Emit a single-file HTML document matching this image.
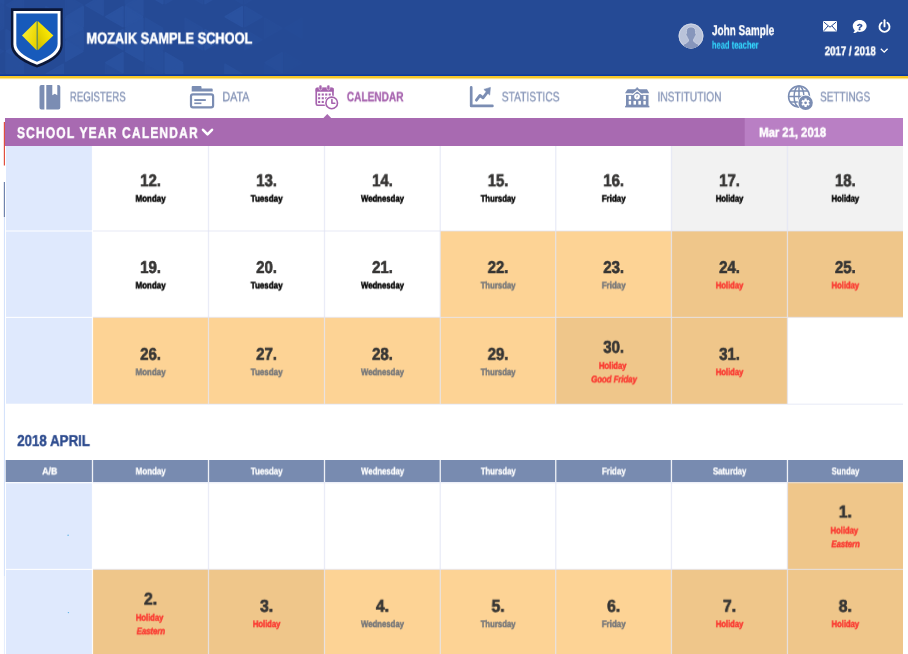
<!DOCTYPE html>
<html lang="en">
<head>
<meta charset="utf-8">
<title>School Year Calendar</title>
<style>
html,body{margin:0;padding:0;}
body{width:908px;height:654px;overflow:hidden;background:#fff;position:relative;font-family:"Liberation Sans", sans-serif;}
.t{position:absolute;white-space:nowrap;line-height:1;transform-origin:0 0;font-weight:700;-webkit-text-stroke:0.3px currentColor;will-change:transform;text-rendering:geometricPrecision;}
.n{font-weight:400;-webkit-text-stroke:0.25px currentColor;}
svg{position:absolute;overflow:visible;}

</style>
</head>
<body>
<svg id="bg" width="908" height="654" viewBox="0 0 908 654" style="left:0;top:0">
<rect x="0" y="0" width="908" height="75" fill="#254a95"/>
<clipPath id="hc"><rect x="0" y="0" width="320" height="74"/></clipPath>
<g clip-path="url(#hc)" fill="#2e58a8" stroke="#2e58a8" stroke-width="1.6" stroke-linejoin="round">
<path d="M3.5 -16.2L-13.5 -6.3L3.5 3.6z" opacity="0.32"/>
<path d="M-13.8 -4.7L3.2 5.2L-13.8 15.1z" opacity="0.22"/>
<path d="M3.5 6.8L-13.5 16.7L3.5 26.6z" opacity="0.22"/>
<path d="M-13.8 18.3L3.2 28.2L-13.8 38.1z" opacity="0.22"/>
<path d="M-13.8 41.3L3.2 51.2L-13.8 61.1z" opacity="0.22"/>
<path d="M-13.8 64.3L3.2 74.2L-13.8 84.1z" opacity="0.22"/>
<path d="M23.4 -4.7L6.4 5.2L23.4 15.1z" opacity="0.22"/>
<path d="M23.4 41.3L6.4 51.2L23.4 61.1z" opacity="0.55"/>
<path d="M6.1 29.8L23.1 39.7L6.1 49.6z" opacity="0.32"/>
<path d="M23.4 64.3L6.4 74.2L23.4 84.1z" opacity="0.32"/>
<path d="M6.1 52.8L23.1 62.7L6.1 72.6z" opacity="0.32"/>
<path d="M26.0 18.3L43.0 28.2L26.0 38.1z" opacity="0.32"/>
<path d="M43.3 29.8L26.3 39.7L43.3 49.6z" opacity="0.22"/>
<path d="M45.9 6.8L62.9 16.7L45.9 26.6z" opacity="0.32"/>
<path d="M63.2 64.3L46.2 74.2L63.2 84.1z" opacity="0.45"/>
<path d="M65.8 -4.7L82.8 5.2L65.8 15.1z" opacity="0.22"/>
<path d="M83.1 6.8L66.1 16.7L83.1 26.6z" opacity="0.55"/>
<path d="M65.8 18.3L82.8 28.2L65.8 38.1z" opacity="0.60"/>
<path d="M83.1 29.8L66.1 39.7L83.1 49.6z" opacity="0.45"/>
<path d="M65.8 41.3L82.8 51.2L65.8 61.1z" opacity="0.55"/>
<path d="M83.1 75.8L66.1 85.7L83.1 95.6z" opacity="0.45"/>
<path d="M103.0 -4.7L86.0 5.2L103.0 15.1z" opacity="0.45"/>
<path d="M85.7 75.8L102.7 85.7L85.7 95.6z" opacity="0.45"/>
<path d="M122.9 6.8L105.9 16.7L122.9 26.6z" opacity="0.60"/>
<path d="M122.9 29.8L105.9 39.7L122.9 49.6z" opacity="0.55"/>
<path d="M122.9 52.8L105.9 62.7L122.9 72.6z" opacity="0.55"/>
<path d="M105.6 64.3L122.6 74.2L105.6 84.1z" opacity="0.22"/>
<path d="M142.8 -4.7L125.8 5.2L142.8 15.1z" opacity="0.45"/>
<path d="M125.5 -16.2L142.5 -6.3L125.5 3.6z" opacity="0.32"/>
<path d="M142.8 18.3L125.8 28.2L142.8 38.1z" opacity="0.55"/>
<path d="M125.5 6.8L142.5 16.7L125.5 26.6z" opacity="0.60"/>
<path d="M142.8 41.3L125.8 51.2L142.8 61.1z" opacity="0.55"/>
<path d="M125.5 29.8L142.5 39.7L125.5 49.6z" opacity="0.45"/>
<path d="M162.7 -16.2L145.7 -6.3L162.7 3.6z" opacity="0.55"/>
<path d="M145.4 18.3L162.4 28.2L145.4 38.1z" opacity="0.32"/>
<path d="M162.7 29.8L145.7 39.7L162.7 49.6z" opacity="0.32"/>
<path d="M145.4 41.3L162.4 51.2L145.4 61.1z" opacity="0.32"/>
<path d="M162.7 52.8L145.7 62.7L162.7 72.6z" opacity="0.32"/>
<path d="M145.4 64.3L162.4 74.2L145.4 84.1z" opacity="0.22"/>
<path d="M162.7 75.8L145.7 85.7L162.7 95.6z" opacity="0.45"/>
<path d="M165.3 -16.2L182.3 -6.3L165.3 3.6z" opacity="0.32"/>
<path d="M182.6 64.3L165.6 74.2L182.6 84.1z" opacity="0.55"/>
<path d="M165.3 52.8L182.3 62.7L165.3 72.6z" opacity="0.55"/>
<path d="M165.3 75.8L182.3 85.7L165.3 95.6z" opacity="0.55"/>
<path d="M202.5 -16.2L185.5 -6.3L202.5 3.6z" opacity="0.22"/>
<path d="M185.2 18.3L202.2 28.2L185.2 38.1z" opacity="0.22"/>
<path d="M202.5 29.8L185.5 39.7L202.5 49.6z" opacity="0.32"/>
<path d="M202.5 75.8L185.5 85.7L202.5 95.6z" opacity="0.32"/>
<path d="M205.1 -16.2L222.1 -6.3L205.1 3.6z" opacity="0.45"/>
<path d="M205.1 29.8L222.1 39.7L205.1 49.6z" opacity="0.55"/>
<path d="M242.3 -16.2L225.3 -6.3L242.3 3.6z" opacity="0.20"/>
<path d="M242.3 6.8L225.3 16.7L242.3 26.6z" opacity="0.60"/>
<path d="M225.0 64.3L242.0 74.2L225.0 84.1z" opacity="0.40"/>
<path d="M242.3 75.8L225.3 85.7L242.3 95.6z" opacity="0.20"/>
<path d="M244.9 -16.2L261.9 -6.3L244.9 3.6z" opacity="0.15"/>
<path d="M244.9 6.8L261.9 16.7L244.9 26.6z" opacity="0.30"/>
<path d="M244.9 29.8L261.9 39.7L244.9 49.6z" opacity="0.21"/>
<path d="M244.9 75.8L261.9 85.7L244.9 95.6z" opacity="0.21"/>
<path d="M264.8 18.3L281.8 28.2L264.8 38.1z" opacity="0.14"/>
<path d="M282.1 52.8L265.1 62.7L282.1 72.6z" opacity="0.24"/>
<path d="M264.8 64.3L281.8 74.2L264.8 84.1z" opacity="0.10"/>
<path d="M302.0 18.3L285.0 28.2L302.0 38.1z" opacity="0.10"/>
<path d="M284.7 52.8L301.7 62.7L284.7 72.6z" opacity="0.07"/>
<path d="M284.7 75.8L301.7 85.7L284.7 95.6z" opacity="0.12"/>
</g>
<rect x="0" y="74.5" width="908" height="1.7" fill="#0f3a9a"/>
<rect x="0" y="76.05" width="908" height="2.2" fill="#f9c922"/>
<rect x="0" y="78.2" width="908" height="1" fill="#f7c724" opacity="0.45"/>
<rect x="5" y="118" width="898" height="28" fill="#a86ab1"/>
<rect x="744.7" y="118" width="158.3" height="28" fill="#b97fc4"/>
<path d="M323.2 118.2L327.3 114.1L331.4 118.2z" fill="#a86ab1"/>
<rect x="3.8" y="122" width="1.2" height="43.5" fill="#e0503f"/>
<rect x="3.8" y="182" width="1.2" height="35" fill="#6f83ad"/>
<rect x="3.9" y="217" width="1.1" height="359" fill="#d5e3fb"/>
<rect x="3.9" y="576" width="1.1" height="78" fill="#e6eefc"/>

<rect x="6" y="146" width="86.5" height="85" fill="#dfe9fd"/>
<rect x="671.45" y="146" width="116" height="85" fill="#f2f2f2"/>
<rect x="787.45" y="146" width="115.55" height="85" fill="#f2f2f2"/>
<rect x="6" y="231" width="86.5" height="86.4" fill="#dfe9fd"/>
<rect x="440.25" y="231" width="115.5" height="86.4" fill="#fdd395"/>
<rect x="555.75" y="231" width="115.7" height="86.4" fill="#fdd395"/>
<rect x="671.45" y="231" width="116" height="86.4" fill="#efc68a"/>
<rect x="787.45" y="231" width="115.55" height="86.4" fill="#efc68a"/>
<rect x="6" y="317.4" width="86.5" height="86.3" fill="#dfe9fd"/>
<rect x="92.5" y="317.4" width="116" height="86.6" fill="#fdd395"/>
<rect x="208.5" y="317.4" width="116" height="86.6" fill="#fdd395"/>
<rect x="324.5" y="317.4" width="115.75" height="86.6" fill="#fdd395"/>
<rect x="440.25" y="317.4" width="115.5" height="86.6" fill="#fdd395"/>
<rect x="555.75" y="317.4" width="115.7" height="86.6" fill="#efc68a"/>
<rect x="671.45" y="317.4" width="116" height="86.6" fill="#efc68a"/>
<rect x="5.7" y="460" width="897.3" height="22" fill="#788bb0"/>
<rect x="6" y="482" width="86.5" height="87.4" fill="#dfe9fd"/>
<rect x="787.45" y="482" width="115.55" height="87.4" fill="#efc68a"/>
<rect x="6" y="569.4" width="86.5" height="86.6" fill="#dfe9fd"/>
<rect x="92.5" y="569.4" width="116" height="86.6" fill="#efc68a"/>
<rect x="208.5" y="569.4" width="116" height="86.6" fill="#efc68a"/>
<rect x="324.5" y="569.4" width="115.75" height="86.6" fill="#fdd395"/>
<rect x="440.25" y="569.4" width="115.5" height="86.6" fill="#fdd395"/>
<rect x="555.75" y="569.4" width="115.7" height="86.6" fill="#fdd395"/>
<rect x="671.45" y="569.4" width="116" height="86.6" fill="#efc68a"/>
<rect x="787.45" y="569.4" width="115.55" height="86.6" fill="#efc68a"/>
<rect x="91.9" y="146" width="1.2" height="258" fill="#fff" opacity="0.9"/>
<rect x="91.9" y="482" width="1.2" height="172" fill="#fff" opacity="0.9"/>
<rect x="91.85" y="460" width="1.3" height="22.2" fill="#fff" opacity="0.88"/>
<rect x="207.85" y="146" width="1.3" height="258" fill="#e1e4f4" opacity="0.7"/>
<rect x="207.85" y="482" width="1.3" height="172" fill="#e1e4f4" opacity="0.7"/>
<rect x="207.85" y="460" width="1.3" height="22.2" fill="#fff" opacity="0.88"/>
<rect x="323.85" y="146" width="1.3" height="258" fill="#e1e4f4" opacity="0.7"/>
<rect x="323.85" y="482" width="1.3" height="172" fill="#e1e4f4" opacity="0.7"/>
<rect x="323.85" y="460" width="1.3" height="22.2" fill="#fff" opacity="0.88"/>
<rect x="439.6" y="146" width="1.3" height="258" fill="#e1e4f4" opacity="0.7"/>
<rect x="439.6" y="482" width="1.3" height="172" fill="#e1e4f4" opacity="0.7"/>
<rect x="439.6" y="460" width="1.3" height="22.2" fill="#fff" opacity="0.88"/>
<rect x="555.1" y="146" width="1.3" height="258" fill="#e1e4f4" opacity="0.7"/>
<rect x="555.1" y="482" width="1.3" height="172" fill="#e1e4f4" opacity="0.7"/>
<rect x="555.1" y="460" width="1.3" height="22.2" fill="#fff" opacity="0.88"/>
<rect x="670.8" y="146" width="1.3" height="258" fill="#e1e4f4" opacity="0.7"/>
<rect x="670.8" y="482" width="1.3" height="172" fill="#e1e4f4" opacity="0.7"/>
<rect x="670.8" y="460" width="1.3" height="22.2" fill="#fff" opacity="0.88"/>
<rect x="786.8" y="146" width="1.3" height="258" fill="#e1e4f4" opacity="0.7"/>
<rect x="786.8" y="482" width="1.3" height="172" fill="#e1e4f4" opacity="0.7"/>
<rect x="786.8" y="460" width="1.3" height="22.2" fill="#fff" opacity="0.88"/>
<rect x="93" y="230.35" width="810" height="1.3" fill="#e1e4f4" opacity="0.595"/>
<rect x="5.5" y="230.4" width="87.5" height="1.2" fill="#fff" opacity="0.85"/>
<rect x="93" y="316.75" width="810" height="1.3" fill="#e1e4f4" opacity="0.595"/>
<rect x="5.5" y="316.8" width="87.5" height="1.2" fill="#fff" opacity="0.85"/>
<rect x="93" y="403.55" width="810" height="1.3" fill="#e1e4f4" opacity="0.595"/>
<rect x="93" y="482.05" width="810" height="1.3" fill="#e1e4f4" opacity="0.595"/>
<rect x="5.5" y="482.1" width="87.5" height="1.2" fill="#fff" opacity="0.85"/>
<rect x="93" y="568.75" width="810" height="1.3" fill="#e1e4f4" opacity="0.595"/>
<rect x="5.5" y="568.8" width="87.5" height="1.2" fill="#fff" opacity="0.85"/>
<circle cx="68.1" cy="535.2" r="0.7" fill="#5cb3e6"/><circle cx="68.4" cy="612.6" r="0.7" fill="#5cb3e6"/>
</svg>
<div class="t" style="left:86px;top:31px;font-size:15.8px;color:#fff;transform:translate3d(0.40px,0.50px,0) scaleX(0.8118);-webkit-text-stroke-width:0.5px;">MOZAIK SAMPLE SCHOOL</div>
<div class="t" style="left:711px;top:24px;font-size:14.2px;color:#fff;transform:translate3d(0.90px,0.10px,0) scaleX(0.7054);">John Sample</div>
<div class="t" style="left:711px;top:40px;font-size:11.1px;color:#34d6fc;transform:translate3d(0.90px,0.60px,0) scaleX(0.6822);-webkit-text-stroke-width:0.1px;">head teacher</div>
<div class="t" style="left:824px;top:45px;font-size:12.6px;color:#fff;transform:translate3d(0.70px,0.20px,0) scaleX(0.7681);-webkit-text-stroke-width:0.45px;">2017 / 2018</div>
<div class="t n" style="left:69px;top:90px;font-size:13.5px;color:#8090b4;transform:translate3d(0.80px,0.30px,0) scaleX(0.7165);">REGISTERS</div>
<div class="t n" style="left:222px;top:90px;font-size:13.5px;color:#8090b4;transform:translate3d(0.40px,0.30px,0) scaleX(0.7938);">DATA</div>
<div class="t" style="left:346px;top:90px;font-size:13.5px;color:#a663ae;transform:translate3d(0.80px,0.30px,0) scaleX(0.7485);">CALENDAR</div>
<div class="t n" style="left:501px;top:90px;font-size:13.5px;color:#8090b4;transform:translate3d(0.70px,0.30px,0) scaleX(0.7604);">STATISTICS</div>
<div class="t n" style="left:657px;top:90px;font-size:13.5px;color:#8090b4;transform:translate3d(0.50px,0.30px,0) scaleX(0.7552);">INSTITUTION</div>
<div class="t n" style="left:820px;top:90px;font-size:13.5px;color:#8090b4;transform:translate3d(0.00px,0.30px,0) scaleX(0.7435);">SETTINGS</div>
<div class="t" style="left:17px;top:125px;font-size:15.4px;color:#fff;transform:translate3d(0.00px,0.90px,0) scaleX(0.7739);letter-spacing:1.6px;-webkit-text-stroke-width:0.5px;">SCHOOL YEAR CALENDAR</div>
<div class="t" style="left:759px;top:125px;font-size:13.2px;color:#fff;transform:translate3d(0.20px,0.70px,0) scaleX(0.8540);-webkit-text-stroke-width:0.5px;">Mar 21, 2018</div>
<div class="t" style="left:17px;top:433px;font-size:15.8px;color:#2d4b8e;transform:translate3d(0.20px,0.90px,0) scaleX(0.8420);-webkit-text-stroke-width:0.4px;">2018 APRIL</div>
<div class="t" style="left:140px;top:172px;font-size:17.2px;color:#363534;transform:translate3d(0.20px,0.20px,0) scaleX(0.8701);-webkit-text-stroke-width:0.65px;">12.</div>
<div class="t" style="left:135px;top:194px;font-size:9.6px;color:#000;transform:translate3d(0.55px,0.65px,0) scaleX(0.8303);-webkit-text-stroke-width:0.5px;">Monday</div>
<div class="t" style="left:256px;top:172px;font-size:17.2px;color:#363534;transform:translate3d(0.20px,0.20px,0) scaleX(0.8701);-webkit-text-stroke-width:0.65px;">13.</div>
<div class="t" style="left:250px;top:194px;font-size:9.6px;color:#000;transform:translate3d(0.60px,0.65px,0) scaleX(0.8373);-webkit-text-stroke-width:0.5px;">Tuesday</div>
<div class="t" style="left:372px;top:172px;font-size:17.2px;color:#363534;transform:translate3d(0.08px,0.20px,0) scaleX(0.8701);-webkit-text-stroke-width:0.65px;">14.</div>
<div class="t" style="left:360px;top:194px;font-size:9.6px;color:#000;transform:translate3d(0.98px,0.65px,0) scaleX(0.8092);-webkit-text-stroke-width:0.5px;">Wednesday</div>
<div class="t" style="left:487px;top:172px;font-size:17.2px;color:#363534;transform:translate3d(0.70px,0.20px,0) scaleX(0.8701);-webkit-text-stroke-width:0.65px;">15.</div>
<div class="t" style="left:480px;top:194px;font-size:9.6px;color:#000;transform:translate3d(0.60px,0.65px,0) scaleX(0.8104);-webkit-text-stroke-width:0.5px;">Thursday</div>
<div class="t" style="left:603px;top:172px;font-size:17.2px;color:#363534;transform:translate3d(0.30px,0.20px,0) scaleX(0.8701);-webkit-text-stroke-width:0.65px;">16.</div>
<div class="t" style="left:601px;top:194px;font-size:9.6px;color:#000;transform:translate3d(0.80px,0.65px,0) scaleX(0.8265);-webkit-text-stroke-width:0.5px;">Friday</div>
<div class="t" style="left:719px;top:172px;font-size:17.2px;color:#363534;transform:translate3d(0.15px,0.20px,0) scaleX(0.8701);-webkit-text-stroke-width:0.65px;">17.</div>
<div class="t" style="left:715px;top:194px;font-size:9.6px;color:#000;transform:translate3d(0.80px,0.65px,0) scaleX(0.7935);-webkit-text-stroke-width:0.5px;">Holiday</div>
<div class="t" style="left:834px;top:172px;font-size:17.2px;color:#363534;transform:translate3d(0.93px,0.20px,0) scaleX(0.8701);-webkit-text-stroke-width:0.65px;">18.</div>
<div class="t" style="left:831px;top:194px;font-size:9.6px;color:#000;transform:translate3d(0.58px,0.65px,0) scaleX(0.7935);-webkit-text-stroke-width:0.5px;">Holiday</div>
<div class="t" style="left:140px;top:259px;font-size:17.2px;color:#363534;transform:translate3d(0.20px,0.00px,0) scaleX(0.8701);-webkit-text-stroke-width:0.65px;">19.</div>
<div class="t" style="left:135px;top:281px;font-size:9.6px;color:#000;transform:translate3d(0.55px,0.45px,0) scaleX(0.8303);-webkit-text-stroke-width:0.5px;">Monday</div>
<div class="t" style="left:256px;top:259px;font-size:17.2px;color:#363534;transform:translate3d(0.20px,0.00px,0) scaleX(0.8701);-webkit-text-stroke-width:0.65px;">20.</div>
<div class="t" style="left:250px;top:281px;font-size:9.6px;color:#000;transform:translate3d(0.60px,0.45px,0) scaleX(0.8373);-webkit-text-stroke-width:0.5px;">Tuesday</div>
<div class="t" style="left:372px;top:259px;font-size:17.2px;color:#363534;transform:translate3d(0.08px,0.00px,0) scaleX(0.8701);-webkit-text-stroke-width:0.65px;">21.</div>
<div class="t" style="left:360px;top:281px;font-size:9.6px;color:#000;transform:translate3d(0.98px,0.45px,0) scaleX(0.8092);-webkit-text-stroke-width:0.5px;">Wednesday</div>
<div class="t" style="left:487px;top:259px;font-size:17.2px;color:#363534;transform:translate3d(0.70px,0.00px,0) scaleX(0.8701);-webkit-text-stroke-width:0.65px;">22.</div>
<div class="t" style="left:480px;top:281px;font-size:9.6px;color:#77787a;transform:translate3d(0.60px,0.45px,0) scaleX(0.8104);-webkit-text-stroke-width:0.5px;">Thursday</div>
<div class="t" style="left:603px;top:259px;font-size:17.2px;color:#363534;transform:translate3d(0.30px,0.00px,0) scaleX(0.8701);-webkit-text-stroke-width:0.65px;">23.</div>
<div class="t" style="left:601px;top:281px;font-size:9.6px;color:#77787a;transform:translate3d(0.80px,0.45px,0) scaleX(0.8265);-webkit-text-stroke-width:0.5px;">Friday</div>
<div class="t" style="left:719px;top:259px;font-size:17.2px;color:#363534;transform:translate3d(0.15px,0.00px,0) scaleX(0.8701);-webkit-text-stroke-width:0.65px;">24.</div>
<div class="t" style="left:715px;top:281px;font-size:9.6px;color:#fa3a32;transform:translate3d(0.80px,0.45px,0) scaleX(0.7935);-webkit-text-stroke-width:0.5px;">Holiday</div>
<div class="t" style="left:834px;top:259px;font-size:17.2px;color:#363534;transform:translate3d(0.93px,0.00px,0) scaleX(0.8701);-webkit-text-stroke-width:0.65px;">25.</div>
<div class="t" style="left:831px;top:281px;font-size:9.6px;color:#fa3a32;transform:translate3d(0.58px,0.45px,0) scaleX(0.7935);-webkit-text-stroke-width:0.5px;">Holiday</div>
<div class="t" style="left:140px;top:345px;font-size:17.2px;color:#363534;transform:translate3d(0.20px,0.80px,0) scaleX(0.8701);-webkit-text-stroke-width:0.65px;">26.</div>
<div class="t" style="left:135px;top:368px;font-size:9.6px;color:#77787a;transform:translate3d(0.55px,0.25px,0) scaleX(0.8303);-webkit-text-stroke-width:0.5px;">Monday</div>
<div class="t" style="left:256px;top:345px;font-size:17.2px;color:#363534;transform:translate3d(0.20px,0.80px,0) scaleX(0.8701);-webkit-text-stroke-width:0.65px;">27.</div>
<div class="t" style="left:250px;top:368px;font-size:9.6px;color:#77787a;transform:translate3d(0.60px,0.25px,0) scaleX(0.8373);-webkit-text-stroke-width:0.5px;">Tuesday</div>
<div class="t" style="left:372px;top:345px;font-size:17.2px;color:#363534;transform:translate3d(0.08px,0.80px,0) scaleX(0.8701);-webkit-text-stroke-width:0.65px;">28.</div>
<div class="t" style="left:360px;top:368px;font-size:9.6px;color:#77787a;transform:translate3d(0.98px,0.25px,0) scaleX(0.8092);-webkit-text-stroke-width:0.5px;">Wednesday</div>
<div class="t" style="left:487px;top:345px;font-size:17.2px;color:#363534;transform:translate3d(0.70px,0.80px,0) scaleX(0.8701);-webkit-text-stroke-width:0.65px;">29.</div>
<div class="t" style="left:480px;top:368px;font-size:9.6px;color:#77787a;transform:translate3d(0.60px,0.25px,0) scaleX(0.8104);-webkit-text-stroke-width:0.5px;">Thursday</div>
<div class="t" style="left:603px;top:338px;font-size:17.2px;color:#363534;transform:translate3d(0.30px,0.70px,0) scaleX(0.8701);-webkit-text-stroke-width:0.65px;">30.</div>
<div class="t" style="left:598px;top:361px;font-size:9.6px;color:#fa3a32;transform:translate3d(0.95px,0.80px,0) scaleX(0.7935);-webkit-text-stroke-width:0.5px;">Holiday</div>
<div class="t" style="left:591px;top:375px;font-size:9.6px;color:#fa3a32;transform:translate3d(0.15px,0.40px,0) scaleX(0.8088);font-style:italic;-webkit-text-stroke-width:0.5px;">Good Friday</div>
<div class="t" style="left:719px;top:345px;font-size:17.2px;color:#363534;transform:translate3d(0.15px,0.80px,0) scaleX(0.8701);-webkit-text-stroke-width:0.65px;">31.</div>
<div class="t" style="left:715px;top:368px;font-size:9.6px;color:#fa3a32;transform:translate3d(0.80px,0.25px,0) scaleX(0.7935);-webkit-text-stroke-width:0.5px;">Holiday</div>
<div class="t" style="left:42px;top:467px;font-size:9.9px;color:#fff;transform:translate3d(0.20px,0.40px,0) scaleX(0.8815);">A/B</div>
<div class="t" style="left:135px;top:467px;font-size:9.9px;color:#fff;transform:translate3d(0.65px,0.40px,0) scaleX(0.8067);">Monday</div>
<div class="t" style="left:250px;top:467px;font-size:9.9px;color:#fff;transform:translate3d(0.70px,0.40px,0) scaleX(0.8133);">Tuesday</div>
<div class="t" style="left:361px;top:467px;font-size:9.9px;color:#fff;transform:translate3d(0.07px,0.40px,0) scaleX(0.7861);">Wednesday</div>
<div class="t" style="left:480px;top:467px;font-size:9.9px;color:#fff;transform:translate3d(0.70px,0.40px,0) scaleX(0.7873);">Thursday</div>
<div class="t" style="left:601px;top:467px;font-size:9.9px;color:#fff;transform:translate3d(0.90px,0.40px,0) scaleX(0.8030);">Friday</div>
<div class="t" style="left:712px;top:467px;font-size:9.9px;color:#fff;transform:translate3d(0.90px,0.40px,0) scaleX(0.7926);">Saturday</div>
<div class="t" style="left:831px;top:467px;font-size:9.9px;color:#fff;transform:translate3d(0.68px,0.40px,0) scaleX(0.7709);">Sunday</div>
<div class="t" style="left:838px;top:503px;font-size:17.2px;color:#363534;transform:translate3d(0.73px,0.50px,0) scaleX(0.9203);-webkit-text-stroke-width:0.65px;">1.</div>
<div class="t" style="left:830px;top:526px;font-size:9.6px;color:#fa3a32;transform:translate3d(0.58px,0.60px,0) scaleX(0.7935);-webkit-text-stroke-width:0.5px;">Holiday</div>
<div class="t" style="left:831px;top:540px;font-size:9.6px;color:#fa3a32;transform:translate3d(0.38px,0.20px,0) scaleX(0.8096);font-style:italic;-webkit-text-stroke-width:0.5px;">Eastern</div>
<div class="t" style="left:144px;top:590px;font-size:17.2px;color:#363534;transform:translate3d(0.00px,0.60px,0) scaleX(0.9203);-webkit-text-stroke-width:0.65px;">2.</div>
<div class="t" style="left:135px;top:613px;font-size:9.6px;color:#fa3a32;transform:translate3d(0.85px,0.70px,0) scaleX(0.7935);-webkit-text-stroke-width:0.5px;">Holiday</div>
<div class="t" style="left:136px;top:627px;font-size:9.6px;color:#fa3a32;transform:translate3d(0.65px,0.30px,0) scaleX(0.8096);font-style:italic;-webkit-text-stroke-width:0.5px;">Eastern</div>
<div class="t" style="left:260px;top:597px;font-size:17.2px;color:#363534;transform:translate3d(0.00px,0.70px,0) scaleX(0.9203);-webkit-text-stroke-width:0.65px;">3.</div>
<div class="t" style="left:252px;top:620px;font-size:9.6px;color:#fa3a32;transform:translate3d(0.85px,0.15px,0) scaleX(0.7935);-webkit-text-stroke-width:0.5px;">Holiday</div>
<div class="t" style="left:375px;top:597px;font-size:17.2px;color:#363534;transform:translate3d(0.88px,0.70px,0) scaleX(0.9203);-webkit-text-stroke-width:0.65px;">4.</div>
<div class="t" style="left:360px;top:620px;font-size:9.6px;color:#77787a;transform:translate3d(0.98px,0.15px,0) scaleX(0.8092);-webkit-text-stroke-width:0.5px;">Wednesday</div>
<div class="t" style="left:491px;top:597px;font-size:17.2px;color:#363534;transform:translate3d(0.50px,0.70px,0) scaleX(0.9203);-webkit-text-stroke-width:0.65px;">5.</div>
<div class="t" style="left:480px;top:620px;font-size:9.6px;color:#77787a;transform:translate3d(0.60px,0.15px,0) scaleX(0.8104);-webkit-text-stroke-width:0.5px;">Thursday</div>
<div class="t" style="left:607px;top:597px;font-size:17.2px;color:#363534;transform:translate3d(0.10px,0.70px,0) scaleX(0.9203);-webkit-text-stroke-width:0.65px;">6.</div>
<div class="t" style="left:601px;top:620px;font-size:9.6px;color:#77787a;transform:translate3d(0.80px,0.15px,0) scaleX(0.8265);-webkit-text-stroke-width:0.5px;">Friday</div>
<div class="t" style="left:722px;top:597px;font-size:17.2px;color:#363534;transform:translate3d(0.95px,0.70px,0) scaleX(0.9203);-webkit-text-stroke-width:0.65px;">7.</div>
<div class="t" style="left:715px;top:620px;font-size:9.6px;color:#fa3a32;transform:translate3d(0.80px,0.15px,0) scaleX(0.7935);-webkit-text-stroke-width:0.5px;">Holiday</div>
<div class="t" style="left:838px;top:597px;font-size:17.2px;color:#363534;transform:translate3d(0.73px,0.70px,0) scaleX(0.9203);-webkit-text-stroke-width:0.65px;">8.</div>
<div class="t" style="left:831px;top:620px;font-size:9.6px;color:#fa3a32;transform:translate3d(0.58px,0.15px,0) scaleX(0.7935);-webkit-text-stroke-width:0.5px;">Holiday</div>
<svg id="logo" width="52" height="60" viewBox="0 0 52 60" style="left:11px;top:8px">
<defs>
<linearGradient id="lg1" x1="0" y1="0" x2="1" y2="0.6"><stop offset="0" stop-color="#fff53f"/><stop offset="1" stop-color="#e9d500"/></linearGradient>
<linearGradient id="lg2" x1="0" y1="1" x2="1" y2="0"><stop offset="0" stop-color="#cdbb00"/><stop offset="0.55" stop-color="#f3e000"/><stop offset="1" stop-color="#fff530"/></linearGradient>
</defs>
<path d="M-0.1 0.2H51.7V36C51.7 45.4 45.4 52.4 26 59.6C6.6 52.4 -0.1 45.4 -0.1 36Z" fill="#0b1738"/>
<path d="M2.4 2.9H49.5V36C49.5 43.5 43.5 50 26 56.8C8.5 50 2.4 43.5 2.4 36Z" fill="#fff"/>
<path d="M5.3 5.6H46.6V35.5C46.6 42 41 47.8 26 53.8C11 47.8 5.3 42 5.3 35.5Z" fill="#175abb"/>
<rect x="25.4" y="13.4" width="1.6" height="28.4" fill="#5c8a5a"/>
<path d="M25.6 12.9L11 27.6L25.6 42.2Z" fill="url(#lg1)"/>
<path d="M26.8 12.9L42.4 27.6L26.8 42.2Z" fill="url(#lg2)"/>
</svg>
<svg id="avatar" width="26" height="26" viewBox="0 0 26 26" style="left:678.4px;top:23.4px">
<defs><clipPath id="avc"><circle cx="13" cy="13" r="12.4"/></clipPath></defs>
<circle cx="13" cy="13" r="12.4" fill="#bac3da"/>
<circle cx="13" cy="13" r="11.9" fill="none" stroke="#cfd6e6" stroke-width="1"/>
<g clip-path="url(#avc)">
<path d="M8.4 8.5C8.4 5.5 10 3.9 13 3.9C16 3.9 17.6 5.5 17.6 8.5L17.6 10.5C18.3 10.6 18.4 12.2 17.4 12.9C17 14.5 16.3 15.6 15.6 16.3L15.6 18C16.5 19.8 19 20.5 20.5 21.5L21.5 26L4.5 26L5.5 21.5C7 20.5 9.5 19.8 10.4 18L10.4 16.3C9.7 15.6 9 14.5 8.6 12.9C7.6 12.2 7.7 10.6 8.4 10.5Z" fill="#8796bc" stroke="#c9d1e4" stroke-width="0.9"/>
</g>
</svg>
<svg id="mail" width="14" height="11" viewBox="0 0 14 11" style="left:823px;top:21.2px">
<rect x="0" y="0" width="14" height="10.6" rx="0.8" fill="#fff"/>
<path d="M0.8 1L7 6.2L13.2 1M0.8 9.8L5 5M13.2 9.8L9 5" stroke="#254a95" stroke-width="1" fill="none"/>
</svg>
<svg id="help" width="15" height="14" viewBox="0 0 15 14" style="left:851.6px;top:20.1px">
<path d="M7.7 0.1C11.6 0.1 14.6 2.8 14.6 6C14.6 9.2 11.6 11.9 7.7 11.9C6.9 11.9 6.2 11.8 5.5 11.6C4.4 12.6 3 13.1 1.2 13.1C2.1 12.3 2.6 11.4 2.7 10.3C1.5 9.2 0.8 7.7 0.8 6C0.8 2.8 3.8 0.1 7.7 0.1Z" fill="#fff"/>
<text x="7.8" y="9.8" font-family="Liberation Sans, sans-serif" font-weight="700" font-size="9.8" text-anchor="middle" fill="#254a95" stroke="#254a95" stroke-width="0.3">?</text>
</svg>
<svg id="power" width="13" height="14" viewBox="0 0 13 14" style="left:877.7px;top:19.4px">
<path d="M3.6 3.8A5 5 0 1 0 9.4 3.8" stroke="#fff" stroke-width="1.9" fill="none" stroke-linecap="round"/>
<path d="M6.5 1.2V7.4" stroke="#fff" stroke-width="1.9" stroke-linecap="round"/>
</svg>
<svg id="chev1" width="9" height="6" viewBox="0 0 9 6" style="left:880.2px;top:48.2px"><path d="M0.8 0.8L4.2 4.2L7.6 0.8" stroke="#fff" stroke-width="1.3" fill="none"/></svg>
<svg id="chev2" width="13" height="9" viewBox="0 0 13 9" style="left:201.4px;top:127.6px"><path d="M2 1.8L6.5 6.4L11 1.8" stroke="#fff" stroke-width="2.6" fill="none" stroke-linecap="round" stroke-linejoin="round"/></svg>
<!-- nav icons -->
<svg id="i-reg" width="22" height="25" viewBox="0 0 22 25" style="left:38.8px;top:84.8px">
<path d="M2.4 0H5.4V24.4H2.4A1.9 1.9 0 0 1 0.5 22.5V1.9A1.9 1.9 0 0 1 2.4 0Z" fill="#7b8db3"/>
<path d="M7.3 0H13.3V10.2L15.8 8.8L18.3 10.2V0H19.4A1.9 1.9 0 0 1 21.3 1.9V22.5A1.9 1.9 0 0 1 19.4 24.4H7.3Z" fill="#7b8db3"/>
</svg>
<svg id="i-data" width="25" height="23" viewBox="0 0 25 23" style="left:190.2px;top:86px">
<path d="M1.7 0.9A0.9 0.9 0 0 1 2.6 0H10.6A0.9 0.9 0 0 1 11.5 0.9V2.4H21.8A0.9 0.9 0 0 1 22.7 3.3V5.6H1.7Z" fill="#7b8db3"/>
<rect x="1" y="8.3" width="22.1" height="13" rx="1.9" fill="none" stroke="#7b8db3" stroke-width="2.2"/>
<rect x="4.3" y="13.1" width="11.5" height="1.9" fill="#7b8db3"/>
<rect x="4.3" y="16.5" width="7.1" height="1.6" fill="#7b8db3"/>
</svg>
<svg id="i-cal" width="25" height="26" viewBox="0 0 25 26" style="left:315px;top:84.6px">
<rect x="1.25" y="3.45" width="16.7" height="16.8" rx="1.4" fill="#fff" stroke="#a663ae" stroke-width="1.7"/>
<rect x="0.6" y="2.7" width="18" height="4.1" rx="1" fill="#a663ae"/>
<g fill="#a663ae" stroke="#fff" stroke-width="0.5">
<rect x="4" y="0.1" width="2.9" height="4.9" rx="1.45"/><rect x="11.9" y="0.1" width="2.9" height="4.9" rx="1.45"/>
</g>
<g fill="#a663ae">
<rect x="3.1" y="8.5" width="2.1" height="2.1"/><rect x="6.7" y="8.5" width="2.1" height="2.1"/><rect x="10.2" y="8.5" width="2.1" height="2.1"/><rect x="13.7" y="8.5" width="2.1" height="2.1"/>
<rect x="3.1" y="12.2" width="2.1" height="2.1"/><rect x="6.7" y="12.2" width="2.1" height="2.1"/><rect x="10.2" y="12.2" width="2.1" height="2.1"/>
<rect x="3.1" y="15.9" width="2.1" height="2.1"/><rect x="6.7" y="15.9" width="2.1" height="2.1"/>
</g>
<circle cx="16.7" cy="17.9" r="7.3" fill="#fff"/>
<circle cx="16.7" cy="17.9" r="5.8" fill="#fff" stroke="#a663ae" stroke-width="1.6"/>
<path d="M16.9 14.6V18.2H19.8" fill="none" stroke="#a663ae" stroke-width="1.6" stroke-linecap="round" stroke-linejoin="round"/>
</svg>
<svg id="i-stat" width="26" height="22" viewBox="0 0 26 22" style="left:469px;top:86.4px">
<path d="M2.2 1.4V19.9H23.4" fill="none" stroke="#7b8db3" stroke-width="2.7" stroke-linecap="round" stroke-linejoin="round"/>
<path d="M7.4 14.2L11 9.4L14 11.8L18 6.6" fill="none" stroke="#7b8db3" stroke-width="2.8" stroke-linecap="round" stroke-linejoin="round"/>
<path d="M21.4 1.4L14.9 3.4L20.7 9.1Z" fill="#7b8db3" stroke="#7b8db3" stroke-width="0.6" stroke-linejoin="round"/>
</svg>
<svg id="i-inst" width="25" height="21" viewBox="0 0 25 21" style="left:625.2px;top:87.4px">
<g fill="#7b8db3">
<path d="M2.6 2.2H22L24.3 6.2H0Z"/>
<path d="M12.15 0.4L17.4 6.2H6.9Z" stroke="#7b8db3" stroke-width="0.6" stroke-linejoin="round"/>
<rect x="1" y="7.9" width="22.5" height="11.2"/>
<path d="M8 8L12.15 4.7L16.3 8Z"/>
<rect x="0.1" y="18.8" width="24.3" height="1.6"/>
</g>
<path d="M7 7.9L12.15 3.8L17.3 7.9" fill="none" stroke="#fff" stroke-width="1.1"/>
<g fill="#fff">
<circle cx="12.05" cy="9.6" r="2.85"/>
<rect x="3.7" y="8.8" width="2.4" height="3.7"/><rect x="18.4" y="8.8" width="2.4" height="3.7"/>
<rect x="3.7" y="13.9" width="2.4" height="3.7"/><rect x="8.5" y="13.9" width="2.5" height="3.7"/><rect x="13.4" y="13.9" width="2.5" height="3.7"/><rect x="18.4" y="13.9" width="2.4" height="3.7"/>
</g>
<path d="M12.2 8.1V10H11" stroke="#7b8db3" stroke-width="0.7" fill="none"/>
</svg>
<svg id="i-set" width="26" height="26" viewBox="0 0 26 26" style="left:787.4px;top:84.6px">
<g fill="none" stroke="#7b8db3" stroke-width="1.5">
<circle cx="12" cy="11.5" r="10.45"/>
<ellipse cx="12" cy="11.5" rx="4.9" ry="10.45"/>
<path d="M12 1.1V21.9M1.6 11.5H22.4M3.3 5.9H20.7M3.3 17.1H20.7"/>
</g>
<circle cx="18.6" cy="17.8" r="8" fill="#fff"/>
<circle cx="18.6" cy="17.8" r="7.2" fill="#7b8db3"/>
<g stroke="#fff" stroke-width="2.2" stroke-linecap="butt">
<path d="M18.6 13.6V22M14.95 15.7L22.25 19.9M14.95 19.9L22.25 15.7"/>
</g>
<circle cx="18.6" cy="17.8" r="2.9" fill="#fff"/>
<circle cx="18.6" cy="17.8" r="1.35" fill="#7b8db3"/>
</svg>

</body>
</html>
